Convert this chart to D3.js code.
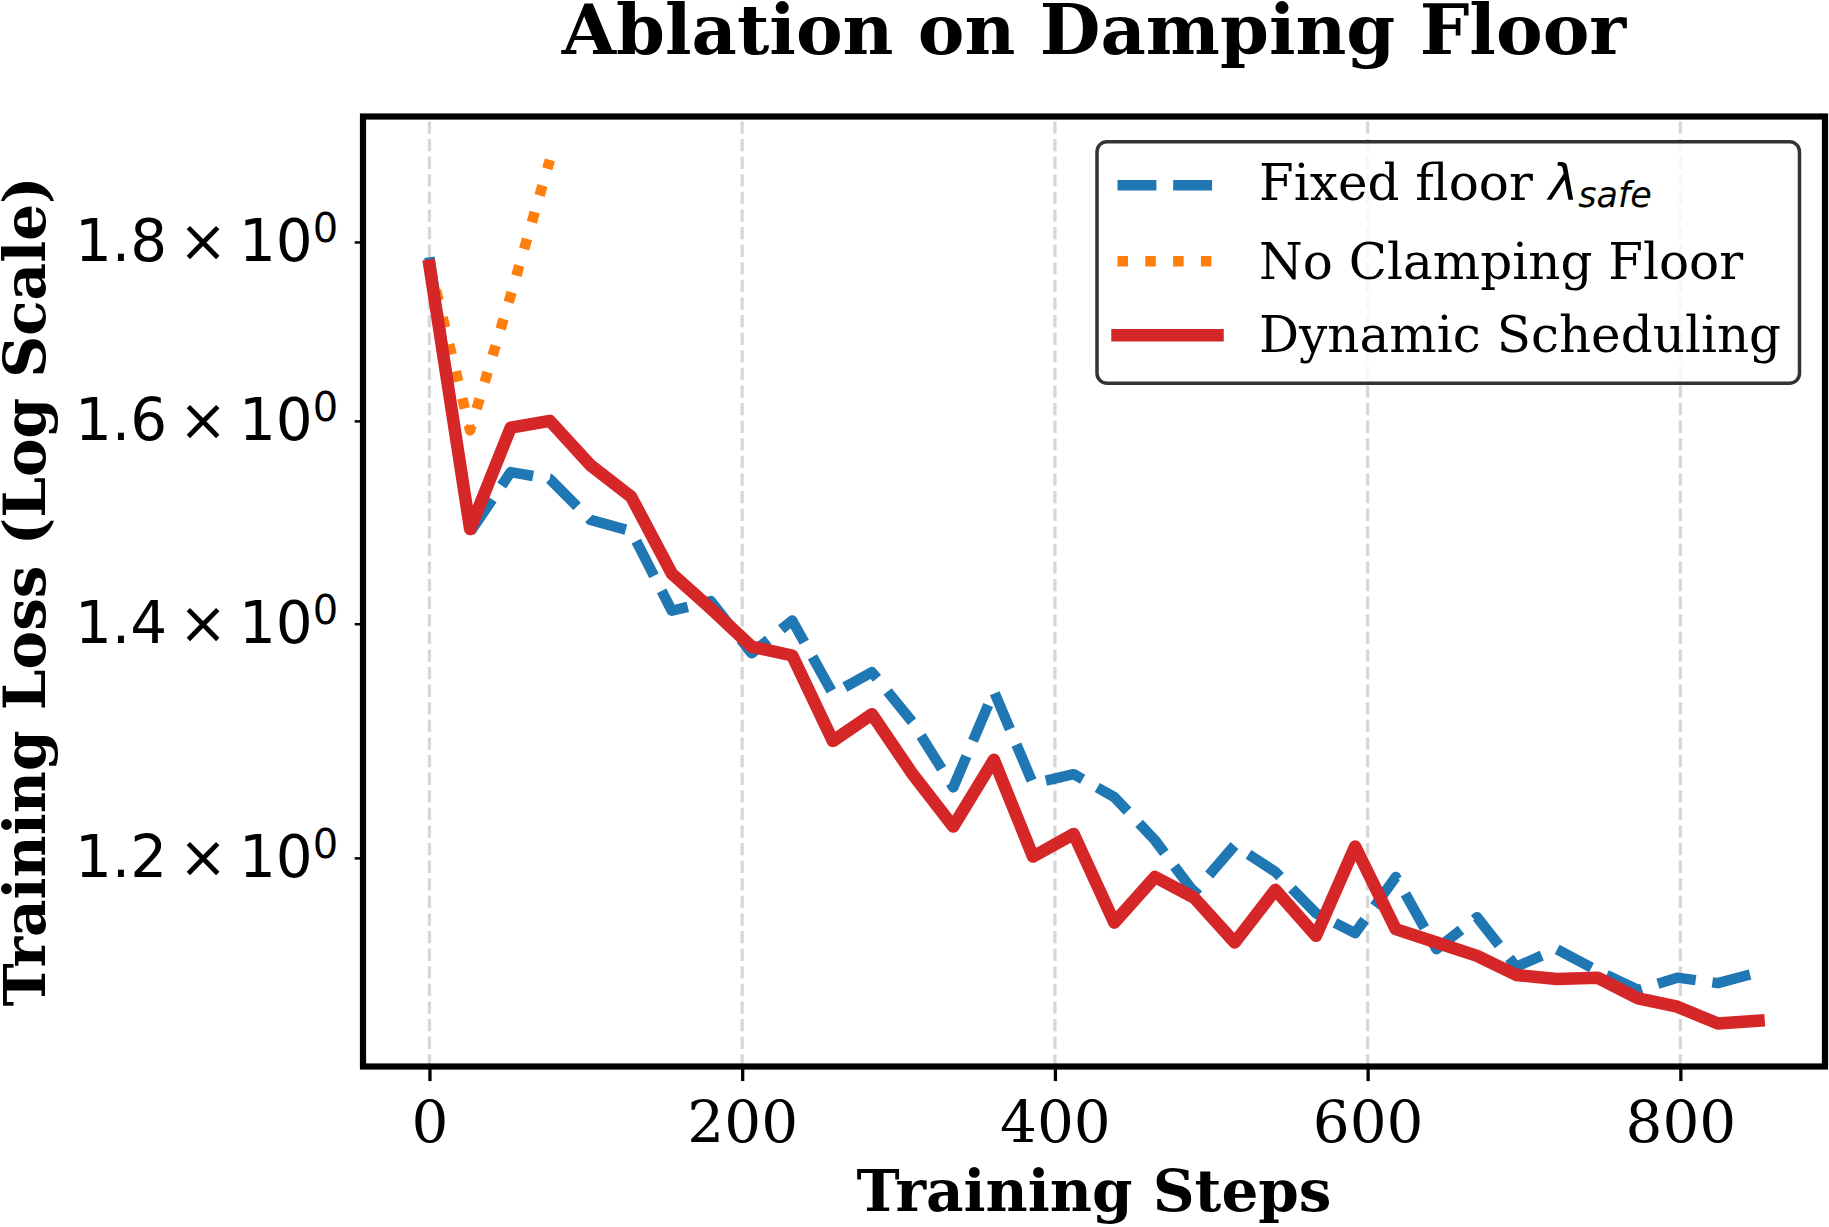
<!DOCTYPE html>
<html>
<head>
<meta charset="utf-8">
<script src="https://cdn.jsdelivr.net/npm/d3@7"></script>
<style>
  body { margin: 0; background: white; }
  text { font-family: "DejaVu Serif", serif; fill: black; }
</style>
</head>
<body>
<div class="fig_loss"></div>
<script>

// training steps at which the loss was logged
var steps = [0, 26, 52, 77, 103, 129, 155, 180, 206, 232, 258, 283, 309, 335, 361, 386, 412,
  438, 464, 489, 515, 541, 567, 592, 618, 644, 670, 695, 721, 747, 773, 798, 824, 850];

var fixedFloor = [1.782, 1.487, 1.547, 1.540, 1.499, 1.488, 1.412, 1.421, 1.373, 1.403, 1.337,
  1.356, 1.312, 1.257, 1.339, 1.260, 1.268, 1.249, 1.214, 1.173, 1.210, 1.189, 1.157, 1.142,
  1.185, 1.130, 1.154, 1.117, 1.130, 1.114, 1.100, 1.109, 1.105, 1.113];

// diverges after a few logs, the rest is nan
var noClamping = [1.775, 1.590, 1.738, 1.900];

var dynamicSched = [1.772, 1.490, 1.593, 1.600, 1.554, 1.522, 1.447, 1.414, 1.379, 1.371, 1.296,
  1.319, 1.268, 1.225, 1.280, 1.201, 1.219, 1.150, 1.185, 1.169, 1.135, 1.175, 1.140, 1.209,
  1.145, 1.135, 1.125, 1.111, 1.108, 1.109, 1.094, 1.088, 1.076, 1.078];

var xTicks = [0, 200, 400, 600, 800];
var yTicks = [1.2, 1.4, 1.6, 1.8];
var yTickLabels = ["1.2", "1.4", "1.6", "1.8"];

var series = [
  {name: "Fixed floor ", values: fixedFloor, color: "#1f77b4", width: 10.5, dash: "38.9,16.8", cap: "butt"},
  {name: "No Clamping Floor", values: noClamping, color: "#ff7f0e", width: 10.5, dash: "10.5,17.3", cap: "butt"},
  {name: "Dynamic Scheduling", values: dynamicSched, color: "#d62728", width: 12.5, dash: null, cap: "square"}
];

var svgWidth = 1829;
var svgHeight = 1227;
var plotLeft = 363, plotRight = 1825, plotTop = 116.5, plotBottom = 1066.5;

var svg = d3.select(".fig_loss").append("svg")
  .attr("width", svgWidth)
  .attr("height", svgHeight)
  .style("background", "white");

var x = d3.scaleLinear()
  .domain([-42.5, 892.5])
  .range([plotLeft, plotRight]);

var y = d3.scaleLog()
  .domain([1.046, 1.955])
  .range([plotBottom, plotTop]);

// vertical grid only (no major log ticks inside the range)
svg.append("g")
  .selectAll("line")
  .data(xTicks)
  .enter()
  .append("line")
  .attr("x1", d => x(d))
  .attr("x2", d => x(d))
  .attr("y1", plotBottom)
  .attr("y2", plotTop)
  .attr("stroke", "#b0b0b0")
  .attr("stroke-opacity", 0.5)
  .attr("stroke-width", 3.3)
  .attr("stroke-dasharray", "12.3,5.3");

var lineGen = d3.line()
  .x((d, i) => x(steps[i]))
  .y(d => y(d));

svg.append("g")
  .selectAll("path")
  .data(series)
  .enter()
  .append("path")
  .attr("d", d => lineGen(d.values))
  .attr("fill", "none")
  .attr("stroke", d => d.color)
  .attr("stroke-width", d => d.width)
  .attr("stroke-dasharray", d => d.dash)
  .attr("stroke-linejoin", "round")
  .attr("stroke-linecap", d => d.cap);

// frame
svg.append("rect")
  .attr("x", plotLeft)
  .attr("y", plotTop)
  .attr("width", plotRight - plotLeft)
  .attr("height", plotBottom - plotTop)
  .attr("fill", "none")
  .attr("stroke", "black")
  .attr("stroke-width", 6.2);

var xAxis = svg.append("g")
  .attr("transform", "translate(0," + plotBottom + ")")
  .call(d3.axisBottom(x).tickValues(xTicks).tickSize(14.6).tickPadding(19.7).tickFormat(d3.format("d")));

xAxis.select(".domain").remove();
xAxis.selectAll("line").attr("stroke-width", 3.3);
xAxis.selectAll("text")
  .style("font-family", "'DejaVu Serif', serif")
  .style("font-size", "58px");

var yAxis = svg.append("g")
  .attr("transform", "translate(" + plotLeft + ",0)")
  .call(d3.axisLeft(y).tickValues(yTicks).tickSize(8.3).tickPadding(16.5).tickFormat(""));

yAxis.select(".domain").remove();
yAxis.selectAll("line").attr("stroke-width", 2.5);

// labels like 1.8 x 10^0
var yText = yAxis.selectAll("text")
  .style("font-family", "'DejaVu Sans', sans-serif")
  .style("font-size", "58px");

yText.append("tspan")
  .text((d, i) => yTickLabels[i] + "\u2009\u00d7\u200910");
yText.append("tspan")
  .text("0")
  .attr("dy", -19)
  .style("font-size", "40px");

svg.append("text")
  .text("Ablation on Damping Floor")
  .attr("x", (plotLeft + plotRight) / 2)
  .attr("y", 53.5)
  .style("text-anchor", "middle")
  .style("font-size", "70px")
  .style("font-weight", "bold");

svg.append("text")
  .text("Training Steps")
  .attr("x", (plotLeft + plotRight) / 2)
  .attr("y", 1211)
  .style("text-anchor", "middle")
  .style("font-size", "58px")
  .style("font-weight", "bold");

svg.append("text")
  .text("Training Loss (Log Scale)")
  .attr("transform", "translate(45," + (plotTop + plotBottom) / 2 + ") rotate(-90)")
  .style("text-anchor", "middle")
  .style("font-size", "58px")
  .style("font-weight", "bold");

// legend
var legend = svg.append("g");

legend.append("rect")
  .attr("x", 1097)
  .attr("y", 141.7)
  .attr("width", 702.5)
  .attr("height", 241.6)
  .attr("rx", 10)
  .attr("fill", "white")
  .attr("fill-opacity", 0.8)
  .attr("stroke", "#333")
  .attr("stroke-width", 3.5);

var rowLine = [185.3, 261.3, 335.3];
var rowText = [200, 279, 352];

legend.selectAll("path")
  .data(series)
  .enter()
  .append("path")
  .attr("d", (d, i) => "M1117.5," + rowLine[i] + "H1217.5")
  .attr("stroke", d => d.color)
  .attr("stroke-width", d => d.width)
  .attr("stroke-dasharray", d => d.dash)
  .attr("stroke-linecap", d => d.cap);

var legendText = legend.selectAll("text")
  .data(series)
  .enter()
  .append("text")
  .attr("x", 1259)
  .attr("y", (d, i) => rowText[i])
  .style("font-size", "50px")
  .text(d => d.name);

// lambda_safe in the first entry
var first = legendText.filter((d, i) => i == 0);
first.append("tspan")
  .text("\u03bb")
  .style("font-family", "'DejaVu Sans', sans-serif")
  .style("font-style", "italic");
first.append("tspan")
  .text("safe")
  .attr("dy", 7)
  .style("font-family", "'DejaVu Sans', sans-serif")
  .style("font-style", "italic")
  .style("font-size", "35px");

</script>
</body>
</html>
